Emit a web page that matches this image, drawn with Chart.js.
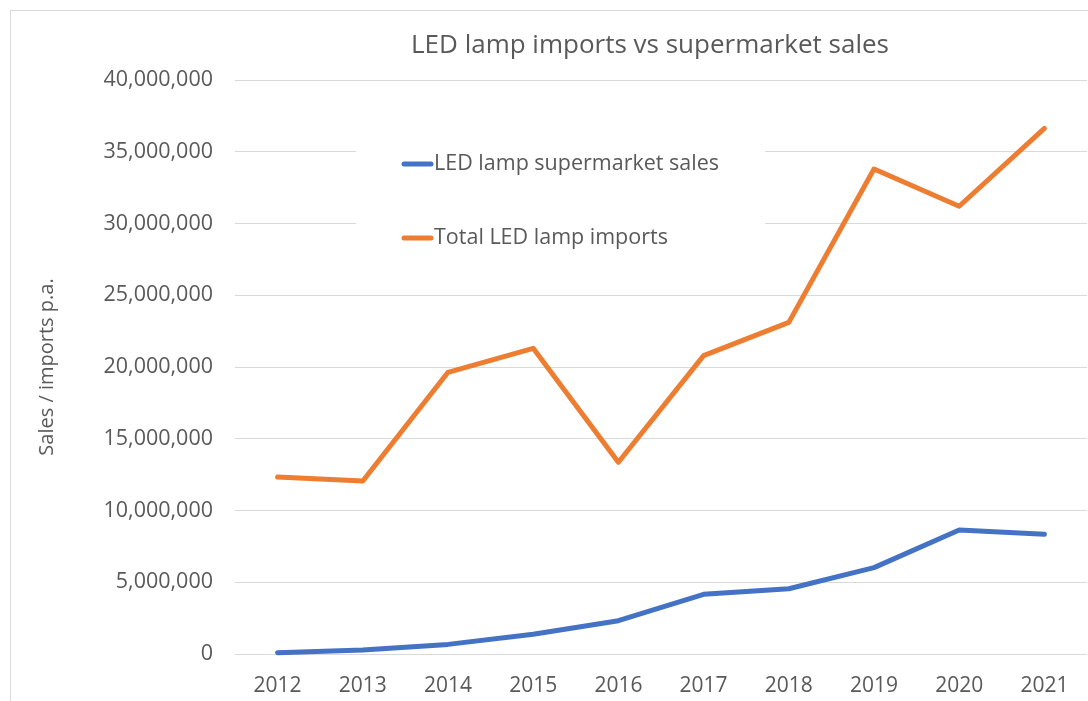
<!DOCTYPE html>
<html>
<head>
<meta charset="utf-8">
<script src="https://cdn.jsdelivr.net/npm/chart.js@4.4.1/dist/chart.umd.min.js"></script>
<style>
  html, body { margin: 0; padding: 0; background: #ffffff; }
  #wrap { width: 1088px; height: 701px; position: relative; }
</style>
</head>
<body>
<div id="wrap"><canvas id="c" width="1088" height="701"></canvas></div>
<script>
const years = ['2012','2013','2014','2015','2016','2017','2018','2019','2020','2021'];
const supermarketSales = [90000, 280000, 670000, 1370000, 2320000, 4160000, 4550000, 6020000, 8640000, 8340000];
const totalImports = [12330000, 12060000, 19630000, 21300000, 13360000, 20790000, 23110000, 33800000, 31200000, 36630000];
const seriesNames = ['LED lamp supermarket sales', 'Total LED lamp imports'];
const chartTitle = 'LED lamp imports vs supermarket sales';
const yAxisTitle = 'Sales / imports p.a.';

const FONT = "'Open Sans', 'Noto Sans', sans-serif";
const TEXT = '#595959';

const frame = {
  id: 'frame',
  beforeDraw(chart) {
    const ctx = chart.ctx;
    ctx.save();
    ctx.fillStyle = '#ffffff';
    ctx.fillRect(0, 0, chart.width, chart.height);
    ctx.strokeStyle = '#D9D9D9';
    ctx.lineWidth = 1;
    ctx.strokeRect(10.5, 10.5, 2000, 2000);
    ctx.restore();
  },
  afterDraw(chart) {
    const ctx = chart.ctx;
    ctx.save();
    ctx.fillStyle = TEXT;
    ctx.font = "26px " + FONT;
    ctx.textAlign = 'center';
    ctx.textBaseline = 'middle';
    ctx.fillText(chartTitle, 650, 46);
    ctx.restore();
  }
};

const insideLegend = {
  id: 'insideLegend',
  beforeDatasetsDraw(chart) {
    const ctx = chart.ctx;
    ctx.save();
    ctx.fillStyle = '#ffffff';
    ctx.fillRect(356, 138, 409, 114);
    ctx.restore();
  },
  afterDatasetsDraw(chart) {
    const ctx = chart.ctx;
    const rows = [164, 238];
    ctx.save();
    ctx.font = "21.5px " + FONT;
    ctx.textBaseline = 'middle';
    ctx.textAlign = 'left';
    chart.data.datasets.forEach((ds, i) => {
      const y = rows[i];
      ctx.strokeStyle = ds.borderColor;
      ctx.lineWidth = 5;
      ctx.lineCap = 'round';
      ctx.beginPath();
      ctx.moveTo(404, y);
      ctx.lineTo(431, y);
      ctx.stroke();
      ctx.fillStyle = TEXT;
      ctx.fillText(ds.label, 434, y);
    });
    ctx.restore();
  }
};

new Chart(document.getElementById('c'), {
  type: 'line',
  data: {
    labels: years,
    datasets: [
      {
        label: seriesNames[0],
        data: supermarketSales,
        borderColor: '#4472C4',
        backgroundColor: '#4472C4',
        borderWidth: 5,
        tension: 0,
        pointRadius: 0,
        borderCapStyle: 'round',
        borderJoinStyle: 'round',
        clip: false
      },
      {
        label: seriesNames[1],
        data: totalImports,
        borderColor: '#ED7D31',
        backgroundColor: '#ED7D31',
        borderWidth: 5,
        tension: 0,
        pointRadius: 0,
        borderCapStyle: 'round',
        borderJoinStyle: 'round',
        clip: false
      }
    ]
  },
  options: {
    responsive: false,
    animation: false,
    events: [],
    layout: { padding: { top: 80, left: 0, right: 1, bottom: 0 } },
    plugins: {
      legend: { display: false },
      title: { display: false },
      tooltip: { enabled: false }
    },
    scales: {
      x: {
        offset: true,
        grid: { display: false, drawTicks: false },
        border: { display: false },
        ticks: { color: TEXT, font: { family: FONT, size: 21 }, padding: 19, maxRotation: 0 },
        afterFit(scale) { scale.height = 47; }
      },
      y: {
        min: 0,
        max: 40000000,
        grid: { color: '#D9D9D9', lineWidth: 1, drawTicks: false },
        border: { display: false },
        ticks: {
          stepSize: 5000000,
          color: TEXT,
          font: { family: FONT, size: 21.5 },
          padding: 22,
          callback: v => v.toLocaleString('en-US')
        },
        title: {
          display: true,
          text: yAxisTitle,
          color: TEXT,
          font: { family: FONT, size: 20 },
          padding: { top: 35, bottom: 0 }
        },
        afterFit(scale) { scale.width = 235; }
      }
    }
  },
  plugins: [frame, insideLegend]
});
</script>
</body>
</html>
